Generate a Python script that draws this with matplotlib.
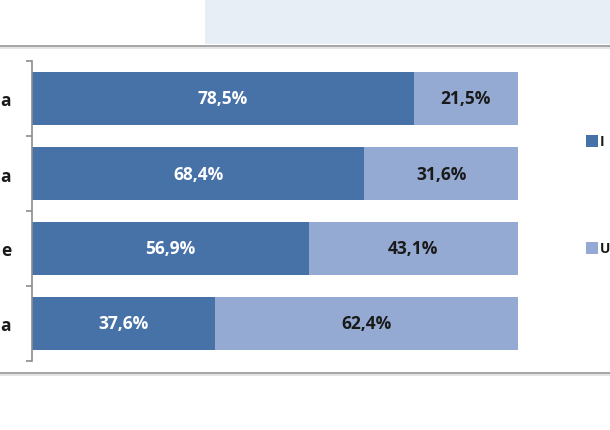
import matplotlib
matplotlib.use("Agg")
import matplotlib.pyplot as plt
from matplotlib.patches import Rectangle
from matplotlib.lines import Line2D

# Data (top to bottom); category labels are cut off in the reference
categories = ["a", "a", "e", "a"]
series1 = [78.5, 68.4, 56.9, 37.6]
series2 = [21.5, 31.6, 43.1, 62.4]
legend_labels = ["I", "U"]

C1 = "#4672A8"
C2 = "#94AAD3"
FONT = ["Open Sans", "DejaVu Sans"]

W, H = 610, 431
fig = plt.figure(figsize=(W / 100, H / 100), dpi=100)
fig.patch.set_facecolor("white")

# header band and separators
fig.add_artist(Rectangle((205 / W, 1 - 45 / H), (W - 205) / W, 45 / H,
                         transform=fig.transFigure, facecolor="#E7EEF6",
                         edgecolor="none", zorder=0))
for y, c, lw in [(47, "#A6A6A6", 2.0), (49, "#DCDCDC", 1.5),
                 (374, "#A6A6A6", 2.0), (376, "#DCDCDC", 1.5)]:
    fig.add_artist(Line2D([0, 1], [1 - y / H, 1 - y / H], transform=fig.transFigure,
                          color=c, linewidth=lw * 0.72, zorder=1))

left, right = 32, 518
top, bottom = 62, 362
ax = fig.add_axes([left / W, 1 - bottom / H, (right - left) / W, (bottom - top) / H])
ax.set_facecolor("none")

n = len(categories)
ypos = list(range(n))
b1 = ax.barh(ypos, series1, height=0.71, color=C1, edgecolor="none")
b2 = ax.barh(ypos, series2, left=series1, height=0.71, color=C2, edgecolor="none")

FS = 12.5
for i in range(n):
    ax.text(series1[i] / 2, ypos[i], f"{series1[i]:.1f}%".replace(".", ","),
            ha="center", va="center", color="white", fontsize=FS,
            fontweight="bold", family=FONT)
    ax.text(series1[i] + series2[i] / 2, ypos[i], f"{series2[i]:.1f}%".replace(".", ","),
            ha="center", va="center", color="#1a1a1a", fontsize=FS,
            fontweight="bold", family=FONT)

ax.set_xlim(0, 100)
ax.set_ylim(n - 0.5, -0.5)
ax.set_yticks(ypos)
ax.set_yticklabels(categories, fontsize=FS, fontweight="bold", family=FONT, color="#1a1a1a")
ax.tick_params(axis="y", which="major", length=0, pad=15)
ax.set_yticks([i - 0.5 for i in range(n + 1)], minor=True)
ax.tick_params(axis="y", which="minor", length=4, width=1.2, color="#8C8C8C")
ax.set_xticks([])
for s in ["top", "right", "bottom"]:
    ax.spines[s].set_visible(False)
ax.spines["left"].set_color("#8C8C8C")
ax.spines["left"].set_linewidth(1.2)

# legend (cut off on the right in the reference)
for (yc, col, lab) in [(142, C1, legend_labels[0]), (249, C2, legend_labels[1])]:
    fig.add_artist(Rectangle((586 / W, 1 - (yc + 6) / H), 12 / W, 12 / H,
                             transform=fig.transFigure, facecolor=col, edgecolor="none"))
    fig.text(600 / W, 1 - yc / H, lab, ha="left", va="center", fontsize=10,
             fontweight="bold", family=FONT, color="#1a1a1a")

fig.savefig("out.png", dpi=100)
